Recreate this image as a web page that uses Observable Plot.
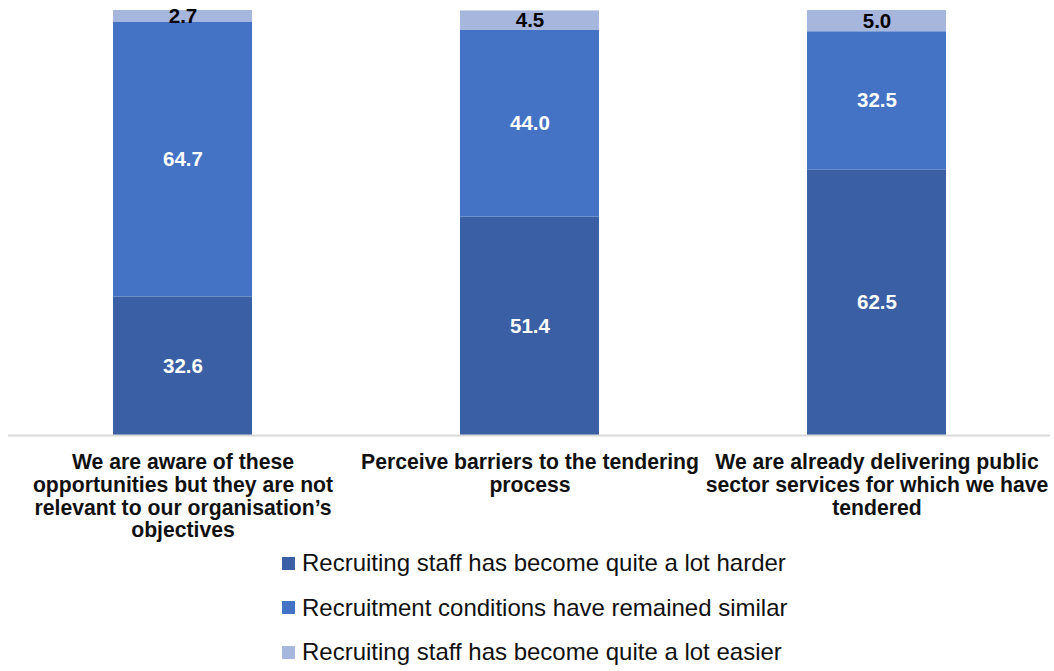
<!DOCTYPE html>
<html>
<head>
<meta charset="utf-8">
<script src="https://cdn.jsdelivr.net/npm/d3@7"></script>
<script src="https://cdn.jsdelivr.net/npm/@observablehq/plot@0.6"></script>
<style>
  body { margin: 0; background: #fff; font-family: "Liberation Sans", Arial, sans-serif; }
  #chart svg { display: block; }
  .legend { margin-left: 282px; margin-top: -5px; }
  .legend .item { display: flex; align-items: center; height: 44.5px; font-size: 24px; color: #111; }
  .legend .sw { width: 13px; height: 13px; margin-right: 7px; }
</style>
</head>
<body>
<div id="chart"></div>
<div class="legend" id="legend"></div>
<script>
const categories = [
  "We are aware of these opportunities but they are not relevant to our organisation’s objectives",
  "Perceive barriers to the tendering process",
  "We are already delivering public sector services for which we have tendered"
];
const categoryLabels = [
  "We are aware of these\nopportunities but they are not\nrelevant to our organisation’s\nobjectives",
  "Perceive barriers to the tendering\nprocess",
  "We are already delivering public\nsector services for which we have\ntendered"
];
const seriesNames = [
  "Recruiting staff has become quite a lot harder",
  "Recruitment conditions have remained similar",
  "Recruiting staff has become quite a lot easier"
];
const seriesColors = ["#3A5FA5", "#4472C4", "#A7B6DD"];
const harder = [32.6, 51.4, 62.5];
const similar = [64.7, 44.0, 32.5];
const easier = [2.7, 4.5, 5.0];

const seriesValues = [harder, similar, easier];
const data = [];
seriesNames.forEach((s, si) => {
  categories.forEach((c, ci) => {
    data.push({category: c, series: s, value: seriesValues[si][ci]});
  });
});
const labelOf = new Map(categories.map((c, i) => [c, categoryLabels[i]]));

const stackOpts = {x: "category", y: "value", z: "series", order: seriesNames};

const plot = Plot.plot({
  width: 1054,
  height: 546,
  marginTop: 10,
  marginBottom: 111,
  marginLeft: 8,
  marginRight: 4,
  style: {fontFamily: "'Liberation Sans', Arial, sans-serif", background: "#fff", overflow: "visible"},
  x: {domain: categories, paddingInner: 0.6, paddingOuter: 0.3, label: null},
  y: {domain: [0, 100], axis: null},
  color: {domain: seriesNames, range: seriesColors},
  marks: [
    Plot.barY(data, Plot.stackY({...stackOpts, fill: "series"})),
    Plot.ruleY([0], {stroke: "#d9d9d9", strokeWidth: 2}),
    Plot.text(data, Plot.stackY({
      ...stackOpts,
      text: d => d.value.toFixed(1),
      fill: d => d.series === seriesNames[2] ? "#000" : "#fff",
      fontSize: 20.5,
      fontWeight: "bold"
    })),
    Plot.axisX({
      tickSize: 0,
      tickPadding: 17,
      tickFormat: d => labelOf.get(d),
      fontSize: 21.2,
      fontWeight: "bold",
      lineHeight: 1.08,
      fill: "#111",
      label: null
    })
  ]
});
document.getElementById("chart").appendChild(plot);

const legend = document.getElementById("legend");
seriesNames.forEach((s, i) => {
  const item = document.createElement("div");
  item.className = "item";
  const sw = document.createElement("span");
  sw.className = "sw";
  sw.style.background = seriesColors[i];
  const t = document.createElement("span");
  t.textContent = s;
  item.appendChild(sw);
  item.appendChild(t);
  legend.appendChild(item);
});
</script>
</body>
</html>
